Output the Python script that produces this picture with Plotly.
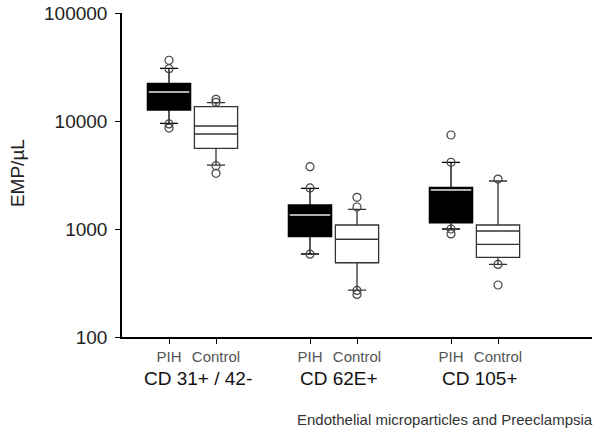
import plotly.graph_objects as go

# ---- data ----
groups = ["CD 31+ / 42-", "CD 62E+", "CD 105+"]
conditions = ["PIH", "Control"]

pih_low = [9520, 587, 1000]
pih_q1 = [12640, 849, 1143]
pih_median = [18560, 1349, 2296]
pih_q3 = [22340, 1668, 2432]
pih_high = [30740, 2381, 4146]
pih_outliers = [[36500, 30500, 9400, 8600], [3775, 2400, 585], [7420, 4150, 1000, 900]]

ctrl_low = [3910, 272, 471]
ctrl_q1 = [5590, 487, 547]
ctrl_median = [8990, 803, 958]
ctrl_mean = [7580, 803, 721]
ctrl_q3 = [13560, 1089, 1089]
ctrl_high = [14770, 1521, 2783]
ctrl_outliers = [[15880, 14900, 3850, 3280], [1966, 1598, 270, 248], [2900, 470, 303]]

y_ticks = [100, 1000, 10000, 100000]
subtitle = "Endothelial microparticles and Preeclampsia"
y_title = "EMP/\u00b5L"

# ---- layout helpers ----
centers = [1.5 + 3 * i for i in range(len(groups))]
pih_x = [c - 0.5 for c in centers]
ctrl_x = [c + 0.5 for c in centers]
BW = 0.92
HALF = BW / 2

FONT = "Liberation Sans, Arial, sans-serif"

fig = go.Figure()

fig.add_trace(go.Box(
    x=pih_x, q1=pih_q1, median=pih_median, q3=pih_q3,
    lowerfence=pih_low, upperfence=pih_high,
    width=BW, whiskerwidth=0.42, boxpoints=False,
    fillcolor="black", line=dict(color="black", width=1.3),
    showlegend=False, hoverinfo="skip"))

fig.add_trace(go.Box(
    x=ctrl_x, q1=ctrl_q1, median=ctrl_median, q3=ctrl_q3,
    lowerfence=ctrl_low, upperfence=ctrl_high,
    width=BW, whiskerwidth=0.42, boxpoints=False,
    fillcolor="white", line=dict(color="#333333", width=1.3),
    showlegend=False, hoverinfo="skip"))

# median line inside black PIH boxes (light)
sx, sy = [], []
for x, m in zip(pih_x, pih_median):
    sx += [x - HALF + 0.03, x + HALF - 0.03, None]
    sy += [m, m, None]
fig.add_trace(go.Scatter(x=sx, y=sy, mode="lines",
                         line=dict(color="#b0b0b0", width=2),
                         showlegend=False, hoverinfo="skip"))

# mean line inside control boxes
sx, sy = [], []
for x, m in zip(ctrl_x, ctrl_mean):
    sx += [x - HALF, x + HALF, None]
    sy += [m, m, None]
fig.add_trace(go.Scatter(x=sx, y=sy, mode="lines",
                         line=dict(color="#333333", width=1.3),
                         showlegend=False, hoverinfo="skip"))

# outliers
ox, oy = [], []
for x, pts in list(zip(pih_x, pih_outliers)) + list(zip(ctrl_x, ctrl_outliers)):
    for p in pts:
        ox.append(x)
        oy.append(p)
fig.add_trace(go.Scatter(x=ox, y=oy, mode="markers",
                         marker=dict(symbol="circle-open", size=8,
                                     color="#444444", line=dict(width=1.2)),
                         showlegend=False, hoverinfo="skip"))

fig.update_layout(
    width=600, height=434,
    margin=dict(l=122, r=8, t=13, b=97),
    paper_bgcolor="white", plot_bgcolor="white",
    boxmode="overlay",
    font=dict(family=FONT, color="#222222"),
    xaxis=dict(
        range=[0, 10], showgrid=False, zeroline=False,
        tickmode="array",
        tickvals=pih_x + ctrl_x,
        ticktext=[conditions[0]] * len(pih_x) + [conditions[1]] * len(ctrl_x),
        ticks="outside", ticklen=5, tickwidth=1.3, tickcolor="black",
        tickfont=dict(size=15, color="#555555", family=FONT),
        showline=True, linecolor="black", linewidth=1.5,
        automargin=False,
    ),
    yaxis=dict(
        type="log", range=[2, 5], showgrid=False, zeroline=False,
        tickmode="array", tickvals=y_ticks,
        ticktext=[str(v) for v in y_ticks],
        ticks="outside", ticklen=5, tickwidth=1.3, tickcolor="black",
        tickfont=dict(size=19, color="#222222", family=FONT),
        showline=True, linecolor="black", linewidth=1.5,
        ticklabelstandoff=4, automargin=False,
        ticklabeloverflow="allow",
    ),
)

for c, g in zip(centers, groups):
    fig.add_annotation(x=c + 0.12, y=-0.127, xref="x", yref="paper",
                       text=g, showarrow=False, xanchor="center", yanchor="middle",
                       font=dict(size=19, color="#111111", family=FONT))

fig.add_annotation(x=1.006, y=-0.256, xref="paper", yref="paper",
                   text=subtitle, showarrow=False, xanchor="right", yanchor="middle",
                   font=dict(size=15, color="#333333", family=FONT))

fig.add_annotation(x=-0.2234, y=0.506, xref="paper", yref="paper",
                   text=y_title, showarrow=False, textangle=-90,
                   xanchor="center", yanchor="middle",
                   font=dict(size=19, color="#222222", family=FONT))

fig.write_html("out.html",
               config={"displayModeBar": False},
               post_script="document.body.style.margin='0';"
                           "document.body.style.padding='0';")
